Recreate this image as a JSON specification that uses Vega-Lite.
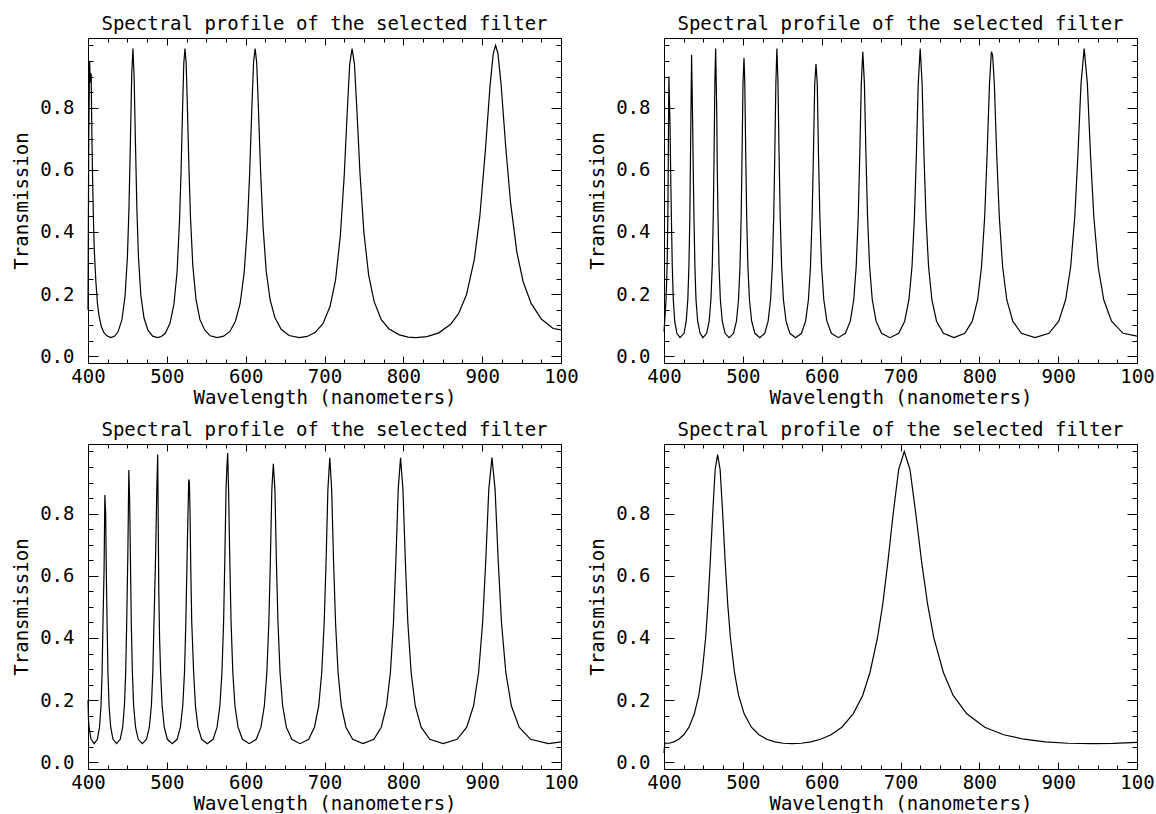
{
"$schema": "https://vega.github.io/schema/vega-lite/v6.json",
"background": "white",
"padding": {"left": 12, "top": 14, "right": 0, "bottom": 0},
"config": {
  "view": {"stroke": null},
  "axis": {"domainColor": "black", "tickColor": "black", "labelColor": "black", "titleColor": "black", "labelFont": "DejaVu Sans Mono", "titleFont": "DejaVu Sans Mono", "labelFontSize": 19, "titleFontSize": 19, "titleFontWeight": "normal", "grid": false, "labelFlush": false, "labelOverlap": false, "domainWidth": 1, "tickWidth": 1},
  "title": {"font": "DejaVu Sans Mono", "fontSize": 19, "fontWeight": "normal", "color": "black", "offset": 4, "frame": "group", "anchor": "middle"}
},
"datasets": {
"p1": [{"x":400,"y":0.15},{"x":401,"y":0.72},{"x":402,"y":0.95},{"x":403,"y":0.88},{"x":404,"y":0.91},{"x":405,"y":0.70},{"x":406,"y":0.55},{"x":407,"y":0.43},{"x":408,"y":0.34},{"x":410,"y":0.24},{"x":412,"y":0.17},{"x":414,"y":0.13},{"x":417,"y":0.095},{"x":420,"y":0.077},{"x":424,"y":0.066},{"x":429,"y":0.06},{"x":434,"y":0.065},{"x":438,"y":0.078},{"x":443,"y":0.117},{"x":447,"y":0.193},{"x":450,"y":0.32},{"x":452,"y":0.48},{"x":454,"y":0.716},{"x":455.5,"y":0.91},{"x":457,"y":0.99},{"x":458.5,"y":0.90},{"x":460,"y":0.71},{"x":462,"y":0.475},{"x":464,"y":0.32},{"x":467,"y":0.197},{"x":471,"y":0.124},{"x":476,"y":0.084},{"x":482,"y":0.065},{"x":488,"y":0.06},{"x":493,"y":0.0635},{"x":498,"y":0.074},{"x":504,"y":0.106},{"x":509,"y":0.167},{"x":513,"y":0.272},{"x":516,"y":0.43},{"x":518,"y":0.59},{"x":520,"y":0.80},{"x":521.5,"y":0.942},{"x":523,"y":0.99},{"x":524.5,"y":0.945},{"x":526,"y":0.81},{"x":528,"y":0.61},{"x":530,"y":0.447},{"x":533,"y":0.29},{"x":537,"y":0.183},{"x":542,"y":0.118},{"x":548,"y":0.085},{"x":555,"y":0.066},{"x":564,"y":0.06},{"x":572,"y":0.065},{"x":580,"y":0.08},{"x":587,"y":0.113},{"x":593,"y":0.17},{"x":598,"y":0.267},{"x":602,"y":0.41},{"x":605,"y":0.585},{"x":608,"y":0.81},{"x":610,"y":0.946},{"x":612,"y":0.99},{"x":614,"y":0.945},{"x":616,"y":0.81},{"x":619,"y":0.59},{"x":622,"y":0.42},{"x":626,"y":0.275},{"x":631,"y":0.182},{"x":637,"y":0.125},{"x":645,"y":0.087},{"x":655,"y":0.067},{"x":668,"y":0.06},{"x":678,"y":0.064},{"x":688,"y":0.0765},{"x":698,"y":0.105},{"x":707,"y":0.16},{"x":714,"y":0.245},{"x":720,"y":0.385},{"x":725,"y":0.58},{"x":729,"y":0.795},{"x":732,"y":0.94},{"x":735,"y":0.99},{"x":738,"y":0.94},{"x":741,"y":0.797},{"x":745,"y":0.59},{"x":750,"y":0.398},{"x":756,"y":0.261},{"x":763,"y":0.176},{"x":772,"y":0.118},{"x":782,"y":0.088},{"x":795,"y":0.069},{"x":806,"y":0.0617},{"x":816,"y":0.06},{"x":830,"y":0.0635},{"x":845,"y":0.0755},{"x":860,"y":0.103},{"x":870,"y":0.137},{"x":880,"y":0.197},{"x":890,"y":0.311},{"x":897,"y":0.45},{"x":904,"y":0.66},{"x":910,"y":0.87},{"x":914,"y":0.973},{"x":917,"y":1.0},{"x":920,"y":0.975},{"x":924,"y":0.875},{"x":930,"y":0.67},{"x":936,"y":0.495},{"x":944,"y":0.335},{"x":952,"y":0.24},{"x":962,"y":0.171},{"x":975,"y":0.12},{"x":990,"y":0.0895},{"x":1000,"y":0.085}],
"p2": [{"x":400,"y":0.08},{"x":400.9,"y":0.113},{"x":402.6,"y":0.182},{"x":403.9,"y":0.289},{"x":404.9,"y":0.45},{"x":406.2,"y":0.90},{"x":407.6,"y":0.75},{"x":408.7,"y":0.55},{"x":409.5,"y":0.43},{"x":410.5,"y":0.289},{"x":411.8,"y":0.182},{"x":413.6,"y":0.113},{"x":416.3,"y":0.074},{"x":420.3,"y":0.06},{"x":425.4,"y":0.074},{"x":428.2,"y":0.113},{"x":430.2,"y":0.182},{"x":431.6,"y":0.289},{"x":432.8,"y":0.45},{"x":433.6,"y":0.645},{"x":435.0,"y":0.97},{"x":436.4,"y":0.74},{"x":437.1,"y":0.60},{"x":438.0,"y":0.45},{"x":439.2,"y":0.289},{"x":440.6,"y":0.182},{"x":442.7,"y":0.113},{"x":445.8,"y":0.074},{"x":449.4,"y":0.06},{"x":454.1,"y":0.074},{"x":457.3,"y":0.113},{"x":459.5,"y":0.182},{"x":461.2,"y":0.289},{"x":462.5,"y":0.45},{"x":463.5,"y":0.645},{"x":464.5,"y":0.878},{"x":465.5,"y":0.99},{"x":466.9,"y":0.79},{"x":467.6,"y":0.60},{"x":468.5,"y":0.45},{"x":469.8,"y":0.289},{"x":471.5,"y":0.182},{"x":473.9,"y":0.113},{"x":477.4,"y":0.074},{"x":482.7,"y":0.06},{"x":488.2,"y":0.074},{"x":491.9,"y":0.113},{"x":494.5,"y":0.182},{"x":496.4,"y":0.289},{"x":497.9,"y":0.45},{"x":499.0,"y":0.645},{"x":500.2,"y":0.878},{"x":501.5,"y":0.96},{"x":502.5,"y":0.878},{"x":503.7,"y":0.645},{"x":504.9,"y":0.45},{"x":506.4,"y":0.289},{"x":508.4,"y":0.182},{"x":511.2,"y":0.113},{"x":515.3,"y":0.074},{"x":521.5,"y":0.06},{"x":527.8,"y":0.074},{"x":532.1,"y":0.113},{"x":535.2,"y":0.182},{"x":537.4,"y":0.289},{"x":539.2,"y":0.45},{"x":540.5,"y":0.645},{"x":541.9,"y":0.878},{"x":543.2,"y":0.99},{"x":544.6,"y":0.878},{"x":546.0,"y":0.645},{"x":547.4,"y":0.45},{"x":549.2,"y":0.289},{"x":551.5,"y":0.182},{"x":554.8,"y":0.113},{"x":559.6,"y":0.074},{"x":566.9,"y":0.06},{"x":574.4,"y":0.074},{"x":579.6,"y":0.113},{"x":583.2,"y":0.182},{"x":585.8,"y":0.289},{"x":587.9,"y":0.45},{"x":589.5,"y":0.645},{"x":591.2,"y":0.878},{"x":592.8,"y":0.94},{"x":594.4,"y":0.878},{"x":596.0,"y":0.645},{"x":597.7,"y":0.45},{"x":599.9,"y":0.289},{"x":602.7,"y":0.182},{"x":606.6,"y":0.113},{"x":612.3,"y":0.074},{"x":621.1,"y":0.06},{"x":630.1,"y":0.074},{"x":636.3,"y":0.113},{"x":640.7,"y":0.182},{"x":643.8,"y":0.289},{"x":646.4,"y":0.45},{"x":648.3,"y":0.645},{"x":650.3,"y":0.878},{"x":652.2,"y":0.98},{"x":654.2,"y":0.878},{"x":656.2,"y":0.645},{"x":658.2,"y":0.45},{"x":660.8,"y":0.289},{"x":664.2,"y":0.182},{"x":669.0,"y":0.113},{"x":676.0,"y":0.074},{"x":686.7,"y":0.06},{"x":697.7,"y":0.074},{"x":705.3,"y":0.113},{"x":710.7,"y":0.182},{"x":714.6,"y":0.289},{"x":717.7,"y":0.45},{"x":720.1,"y":0.645},{"x":722.5,"y":0.878},{"x":725.0,"y":0.99},{"x":727.4,"y":0.878},{"x":729.8,"y":0.645},{"x":732.3,"y":0.45},{"x":735.6,"y":0.289},{"x":739.8,"y":0.182},{"x":745.7,"y":0.113},{"x":754.4,"y":0.074},{"x":767.8,"y":0.06},{"x":781.6,"y":0.074},{"x":791.1,"y":0.113},{"x":797.9,"y":0.182},{"x":802.8,"y":0.289},{"x":806.8,"y":0.45},{"x":809.8,"y":0.645},{"x":812.9,"y":0.878},{"x":815.3,"y":0.98},{"x":816.8,"y":0.97},{"x":819.0,"y":0.878},{"x":822.1,"y":0.645},{"x":825.3,"y":0.45},{"x":829.5,"y":0.289},{"x":834.8,"y":0.182},{"x":842.4,"y":0.113},{"x":853.4,"y":0.074},{"x":870.6,"y":0.06},{"x":888.4,"y":0.074},{"x":900.7,"y":0.113},{"x":909.5,"y":0.182},{"x":915.9,"y":0.289},{"x":921.1,"y":0.45},{"x":925.0,"y":0.645},{"x":929.0,"y":0.878},{"x":933.0,"y":0.99},{"x":937.0,"y":0.878},{"x":941.1,"y":0.645},{"x":945.2,"y":0.45},{"x":950.7,"y":0.289},{"x":957.8,"y":0.182},{"x":967.7,"y":0.113},{"x":982.3,"y":0.074},{"x":1000,"y":0.065}],
"p3": [{"x":400,"y":0.20},{"x":400.6,"y":0.14},{"x":401.3,"y":0.113},{"x":403.9,"y":0.074},{"x":407.9,"y":0.06},{"x":411.9,"y":0.074},{"x":414.6,"y":0.113},{"x":416.5,"y":0.182},{"x":417.9,"y":0.289},{"x":419.0,"y":0.45},{"x":420.4,"y":0.62},{"x":421.4,"y":0.86},{"x":422.4,"y":0.80},{"x":423.3,"y":0.60},{"x":424.2,"y":0.45},{"x":425.3,"y":0.289},{"x":426.7,"y":0.182},{"x":428.8,"y":0.113},{"x":431.7,"y":0.074},{"x":436.3,"y":0.06},{"x":440.9,"y":0.074},{"x":444.0,"y":0.113},{"x":446.2,"y":0.182},{"x":447.8,"y":0.289},{"x":449.1,"y":0.45},{"x":450.6,"y":0.68},{"x":451.8,"y":0.94},{"x":452.9,"y":0.83},{"x":454.0,"y":0.62},{"x":454.9,"y":0.45},{"x":456.3,"y":0.289},{"x":457.9,"y":0.182},{"x":460.3,"y":0.113},{"x":463.7,"y":0.074},{"x":468.9,"y":0.06},{"x":474.2,"y":0.074},{"x":477.8,"y":0.113},{"x":480.4,"y":0.182},{"x":482.2,"y":0.289},{"x":483.7,"y":0.45},{"x":485.8,"y":0.67},{"x":487.3,"y":0.88},{"x":488.4,"y":0.99},{"x":489.8,"y":0.55},{"x":490.8,"y":0.40},{"x":492.1,"y":0.289},{"x":494.0,"y":0.182},{"x":496.7,"y":0.113},{"x":500.7,"y":0.074},{"x":506.8,"y":0.06},{"x":513.0,"y":0.074},{"x":517.2,"y":0.113},{"x":520.2,"y":0.182},{"x":522.4,"y":0.289},{"x":524.1,"y":0.45},{"x":526.0,"y":0.70},{"x":527.8,"y":0.91},{"x":528.6,"y":0.90},{"x":529.4,"y":0.81},{"x":530.4,"y":0.62},{"x":531.6,"y":0.45},{"x":534.0,"y":0.289},{"x":536.3,"y":0.182},{"x":539.5,"y":0.113},{"x":544.2,"y":0.074},{"x":551.3,"y":0.06},{"x":558.7,"y":0.074},{"x":563.7,"y":0.113},{"x":567.3,"y":0.182},{"x":569.9,"y":0.289},{"x":572.0,"y":0.45},{"x":573.5,"y":0.645},{"x":575.1,"y":0.878},{"x":576.2,"y":0.95},{"x":577.2,"y":0.995},{"x":578.3,"y":0.878},{"x":579.9,"y":0.645},{"x":581.5,"y":0.45},{"x":583.7,"y":0.289},{"x":586.4,"y":0.182},{"x":590.3,"y":0.113},{"x":595.9,"y":0.074},{"x":604.5,"y":0.06},{"x":613.4,"y":0.074},{"x":619.4,"y":0.113},{"x":623.7,"y":0.182},{"x":626.9,"y":0.289},{"x":629.4,"y":0.45},{"x":631.3,"y":0.645},{"x":633.2,"y":0.878},{"x":635.1,"y":0.96},{"x":637.1,"y":0.878},{"x":639.0,"y":0.645},{"x":641.0,"y":0.45},{"x":643.6,"y":0.289},{"x":646.9,"y":0.182},{"x":651.6,"y":0.113},{"x":658.5,"y":0.074},{"x":669.0,"y":0.06},{"x":679.9,"y":0.074},{"x":687.3,"y":0.113},{"x":692.7,"y":0.182},{"x":696.5,"y":0.289},{"x":699.6,"y":0.45},{"x":702.0,"y":0.645},{"x":704.3,"y":0.878},{"x":706.7,"y":0.98},{"x":709.1,"y":0.878},{"x":711.5,"y":0.645},{"x":714.0,"y":0.45},{"x":717.2,"y":0.289},{"x":721.3,"y":0.182},{"x":727.2,"y":0.113},{"x":735.7,"y":0.074},{"x":748.9,"y":0.06},{"x":762.6,"y":0.074},{"x":772.0,"y":0.113},{"x":778.7,"y":0.182},{"x":783.6,"y":0.289},{"x":787.5,"y":0.45},{"x":790.5,"y":0.645},{"x":793.5,"y":0.878},{"x":796.5,"y":0.98},{"x":799.5,"y":0.878},{"x":802.6,"y":0.645},{"x":805.7,"y":0.45},{"x":809.9,"y":0.289},{"x":815.1,"y":0.182},{"x":822.6,"y":0.113},{"x":833.6,"y":0.074},{"x":850.5,"y":0.06},{"x":868.2,"y":0.074},{"x":880.4,"y":0.113},{"x":889.1,"y":0.182},{"x":895.5,"y":0.289},{"x":900.6,"y":0.45},{"x":904.5,"y":0.645},{"x":908.4,"y":0.878},{"x":912.4,"y":0.98},{"x":916.4,"y":0.878},{"x":920.4,"y":0.645},{"x":924.5,"y":0.45},{"x":930.0,"y":0.289},{"x":937.0,"y":0.182},{"x":946.9,"y":0.113},{"x":961.4,"y":0.074},{"x":984.0,"y":0.06},{"x":1000,"y":0.066}],
"p4": [{"x":400,"y":0.03},{"x":401,"y":0.062},{"x":406.5,"y":0.0613},{"x":412.5,"y":0.0658},{"x":418.7,"y":0.0743},{"x":425.1,"y":0.0887},{"x":431.7,"y":0.113},{"x":438.5,"y":0.156},{"x":444.1,"y":0.215},{"x":448.4,"y":0.289},{"x":452.8,"y":0.40},{"x":455.7,"y":0.507},{"x":458.7,"y":0.645},{"x":461.8,"y":0.802},{"x":464.9,"y":0.942},{"x":468.0,"y":0.99},{"x":471.2,"y":0.942},{"x":474.4,"y":0.802},{"x":477.6,"y":0.645},{"x":480.9,"y":0.507},{"x":484.3,"y":0.40},{"x":489.4,"y":0.289},{"x":494.6,"y":0.215},{"x":501.7,"y":0.156},{"x":510.9,"y":0.113},{"x":520.4,"y":0.0887},{"x":530.3,"y":0.0743},{"x":540.6,"y":0.0658},{"x":551.3,"y":0.0613},{"x":562.5,"y":0.0599},{"x":574.1,"y":0.0613},{"x":586.1,"y":0.0658},{"x":598.7,"y":0.0743},{"x":611.9,"y":0.0887},{"x":625.6,"y":0.113},{"x":640.0,"y":0.156},{"x":652.0,"y":0.215},{"x":661.3,"y":0.289},{"x":670.8,"y":0.40},{"x":677.4,"y":0.507},{"x":684.0,"y":0.645},{"x":690.8,"y":0.802},{"x":697.7,"y":0.942},{"x":704.8,"y":1.0},{"x":712.0,"y":0.942},{"x":719.3,"y":0.802},{"x":726.8,"y":0.645},{"x":734.5,"y":0.507},{"x":742.3,"y":0.40},{"x":754.4,"y":0.289},{"x":766.8,"y":0.215},{"x":784.1,"y":0.156},{"x":806.8,"y":0.113},{"x":830.9,"y":0.0887},{"x":856.4,"y":0.0743},{"x":883.6,"y":0.0658},{"x":912.5,"y":0.0613},{"x":943.4,"y":0.0599},{"x":970,"y":0.061},{"x":1000,"y":0.064}]
},
"columns": 2,
"spacing": {"row": 81, "column": 103},
"bounds": "flush",
"concat": [
{"title": "Spectral profile of the selected filter", "width": 473, "height": 325, "data": {"name": "p1"},
 "layer": [
  {"mark": {"type": "line", "color": "black", "strokeWidth": 1.2},
   "encoding": {
    "x": {"field": "x", "type": "quantitative", "scale": {"domain": [400, 1000], "nice": false, "zero": false}, "axis": {"orient": "bottom", "values": [400,500,600,700,800,900,1000], "tickSize": -7, "labelPadding": 11, "format": "d", "labelExpr": "datum.value == 1000 ? '100' : datum.label", "title": "Wavelength (nanometers)", "titlePadding": 2}},
    "y": {"field": "y", "type": "quantitative", "scale": {"domain": [-0.0215, 1.024], "nice": false, "zero": false}, "axis": {"orient": "left", "values": [0,0.2,0.4,0.6,0.8], "tickSize": -10, "labelPadding": 24, "format": ".1f", "title": "Transmission", "titlePadding": 8}}}},
  {"mark": {"type": "line", "opacity": 0},
   "encoding": {
    "x": {"field": "x", "type": "quantitative", "scale": {"domain": [400, 1000], "nice": false, "zero": false}, "axis": {"orient": "bottom", "values": [425,450,475,525,550,575,625,650,675,725,750,775,825,850,875,925,950,975], "tickSize": -4, "labels": false, "domain": false, "title": null}},
    "y": {"field": "y", "type": "quantitative", "scale": {"domain": [-0.0215, 1.024], "nice": false, "zero": false}, "axis": {"orient": "left", "values": [0.05,0.1,0.15,0.25,0.3,0.35,0.45,0.5,0.55,0.65,0.7,0.75,0.85,0.9,0.95,1.0], "tickSize": -5, "labels": false, "domain": false, "title": null}}}},
  {"mark": {"type": "line", "opacity": 0},
   "encoding": {
    "x": {"field": "x", "type": "quantitative", "scale": {"domain": [400, 1000], "nice": false, "zero": false}, "axis": {"orient": "top", "values": [400,500,600,700,800,900,1000], "tickSize": -7, "labels": false, "title": null}},
    "y": {"field": "y", "type": "quantitative", "scale": {"domain": [-0.0215, 1.024], "nice": false, "zero": false}, "axis": {"orient": "right", "values": [0,0.2,0.4,0.6,0.8], "tickSize": -10, "labels": false, "title": null}}}},
  {"mark": {"type": "line", "opacity": 0},
   "encoding": {
    "x": {"field": "x", "type": "quantitative", "scale": {"domain": [400, 1000], "nice": false, "zero": false}, "axis": {"orient": "top", "values": [425,450,475,525,550,575,625,650,675,725,750,775,825,850,875,925,950,975], "tickSize": -4, "labels": false, "domain": false, "title": null}},
    "y": {"field": "y", "type": "quantitative", "scale": {"domain": [-0.0215, 1.024], "nice": false, "zero": false}, "axis": {"orient": "right", "values": [0.05,0.1,0.15,0.25,0.3,0.35,0.45,0.5,0.55,0.65,0.7,0.75,0.85,0.9,0.95,1.0], "tickSize": -5, "labels": false, "domain": false, "title": null}}}}
 ],
 "resolve": {"axis": {"x": "independent", "y": "independent"}}},
{"title": "Spectral profile of the selected filter", "width": 473, "height": 325, "data": {"name": "p2"},
 "layer": [
  {"mark": {"type": "line", "color": "black", "strokeWidth": 1.2},
   "encoding": {
    "x": {"field": "x", "type": "quantitative", "scale": {"domain": [400, 1000], "nice": false, "zero": false}, "axis": {"orient": "bottom", "values": [400,500,600,700,800,900,1000], "tickSize": -7, "labelPadding": 11, "format": "d", "labelExpr": "datum.value == 1000 ? '100' : datum.label", "title": "Wavelength (nanometers)", "titlePadding": 2}},
    "y": {"field": "y", "type": "quantitative", "scale": {"domain": [-0.0215, 1.024], "nice": false, "zero": false}, "axis": {"orient": "left", "values": [0,0.2,0.4,0.6,0.8], "tickSize": -10, "labelPadding": 24, "format": ".1f", "title": "Transmission", "titlePadding": 8}}}},
  {"mark": {"type": "line", "opacity": 0},
   "encoding": {
    "x": {"field": "x", "type": "quantitative", "scale": {"domain": [400, 1000], "nice": false, "zero": false}, "axis": {"orient": "bottom", "values": [425,450,475,525,550,575,625,650,675,725,750,775,825,850,875,925,950,975], "tickSize": -4, "labels": false, "domain": false, "title": null}},
    "y": {"field": "y", "type": "quantitative", "scale": {"domain": [-0.0215, 1.024], "nice": false, "zero": false}, "axis": {"orient": "left", "values": [0.05,0.1,0.15,0.25,0.3,0.35,0.45,0.5,0.55,0.65,0.7,0.75,0.85,0.9,0.95,1.0], "tickSize": -5, "labels": false, "domain": false, "title": null}}}},
  {"mark": {"type": "line", "opacity": 0},
   "encoding": {
    "x": {"field": "x", "type": "quantitative", "scale": {"domain": [400, 1000], "nice": false, "zero": false}, "axis": {"orient": "top", "values": [400,500,600,700,800,900,1000], "tickSize": -7, "labels": false, "title": null}},
    "y": {"field": "y", "type": "quantitative", "scale": {"domain": [-0.0215, 1.024], "nice": false, "zero": false}, "axis": {"orient": "right", "values": [0,0.2,0.4,0.6,0.8], "tickSize": -10, "labels": false, "title": null}}}},
  {"mark": {"type": "line", "opacity": 0},
   "encoding": {
    "x": {"field": "x", "type": "quantitative", "scale": {"domain": [400, 1000], "nice": false, "zero": false}, "axis": {"orient": "top", "values": [425,450,475,525,550,575,625,650,675,725,750,775,825,850,875,925,950,975], "tickSize": -4, "labels": false, "domain": false, "title": null}},
    "y": {"field": "y", "type": "quantitative", "scale": {"domain": [-0.0215, 1.024], "nice": false, "zero": false}, "axis": {"orient": "right", "values": [0.05,0.1,0.15,0.25,0.3,0.35,0.45,0.5,0.55,0.65,0.7,0.75,0.85,0.9,0.95,1.0], "tickSize": -5, "labels": false, "domain": false, "title": null}}}}
 ],
 "resolve": {"axis": {"x": "independent", "y": "independent"}}},
{"title": "Spectral profile of the selected filter", "width": 473, "height": 325, "data": {"name": "p3"},
 "layer": [
  {"mark": {"type": "line", "color": "black", "strokeWidth": 1.2},
   "encoding": {
    "x": {"field": "x", "type": "quantitative", "scale": {"domain": [400, 1000], "nice": false, "zero": false}, "axis": {"orient": "bottom", "values": [400,500,600,700,800,900,1000], "tickSize": -7, "labelPadding": 11, "format": "d", "labelExpr": "datum.value == 1000 ? '100' : datum.label", "title": "Wavelength (nanometers)", "titlePadding": 2}},
    "y": {"field": "y", "type": "quantitative", "scale": {"domain": [-0.0215, 1.024], "nice": false, "zero": false}, "axis": {"orient": "left", "values": [0,0.2,0.4,0.6,0.8], "tickSize": -10, "labelPadding": 24, "format": ".1f", "title": "Transmission", "titlePadding": 8}}}},
  {"mark": {"type": "line", "opacity": 0},
   "encoding": {
    "x": {"field": "x", "type": "quantitative", "scale": {"domain": [400, 1000], "nice": false, "zero": false}, "axis": {"orient": "bottom", "values": [425,450,475,525,550,575,625,650,675,725,750,775,825,850,875,925,950,975], "tickSize": -4, "labels": false, "domain": false, "title": null}},
    "y": {"field": "y", "type": "quantitative", "scale": {"domain": [-0.0215, 1.024], "nice": false, "zero": false}, "axis": {"orient": "left", "values": [0.05,0.1,0.15,0.25,0.3,0.35,0.45,0.5,0.55,0.65,0.7,0.75,0.85,0.9,0.95,1.0], "tickSize": -5, "labels": false, "domain": false, "title": null}}}},
  {"mark": {"type": "line", "opacity": 0},
   "encoding": {
    "x": {"field": "x", "type": "quantitative", "scale": {"domain": [400, 1000], "nice": false, "zero": false}, "axis": {"orient": "top", "values": [400,500,600,700,800,900,1000], "tickSize": -7, "labels": false, "title": null}},
    "y": {"field": "y", "type": "quantitative", "scale": {"domain": [-0.0215, 1.024], "nice": false, "zero": false}, "axis": {"orient": "right", "values": [0,0.2,0.4,0.6,0.8], "tickSize": -10, "labels": false, "title": null}}}},
  {"mark": {"type": "line", "opacity": 0},
   "encoding": {
    "x": {"field": "x", "type": "quantitative", "scale": {"domain": [400, 1000], "nice": false, "zero": false}, "axis": {"orient": "top", "values": [425,450,475,525,550,575,625,650,675,725,750,775,825,850,875,925,950,975], "tickSize": -4, "labels": false, "domain": false, "title": null}},
    "y": {"field": "y", "type": "quantitative", "scale": {"domain": [-0.0215, 1.024], "nice": false, "zero": false}, "axis": {"orient": "right", "values": [0.05,0.1,0.15,0.25,0.3,0.35,0.45,0.5,0.55,0.65,0.7,0.75,0.85,0.9,0.95,1.0], "tickSize": -5, "labels": false, "domain": false, "title": null}}}}
 ],
 "resolve": {"axis": {"x": "independent", "y": "independent"}}},
{"title": "Spectral profile of the selected filter", "width": 473, "height": 325, "data": {"name": "p4"},
 "layer": [
  {"mark": {"type": "line", "color": "black", "strokeWidth": 1.2},
   "encoding": {
    "x": {"field": "x", "type": "quantitative", "scale": {"domain": [400, 1000], "nice": false, "zero": false}, "axis": {"orient": "bottom", "values": [400,500,600,700,800,900,1000], "tickSize": -7, "labelPadding": 11, "format": "d", "labelExpr": "datum.value == 1000 ? '100' : datum.label", "title": "Wavelength (nanometers)", "titlePadding": 2}},
    "y": {"field": "y", "type": "quantitative", "scale": {"domain": [-0.0215, 1.024], "nice": false, "zero": false}, "axis": {"orient": "left", "values": [0,0.2,0.4,0.6,0.8], "tickSize": -10, "labelPadding": 24, "format": ".1f", "title": "Transmission", "titlePadding": 8}}}},
  {"mark": {"type": "line", "opacity": 0},
   "encoding": {
    "x": {"field": "x", "type": "quantitative", "scale": {"domain": [400, 1000], "nice": false, "zero": false}, "axis": {"orient": "bottom", "values": [425,450,475,525,550,575,625,650,675,725,750,775,825,850,875,925,950,975], "tickSize": -4, "labels": false, "domain": false, "title": null}},
    "y": {"field": "y", "type": "quantitative", "scale": {"domain": [-0.0215, 1.024], "nice": false, "zero": false}, "axis": {"orient": "left", "values": [0.05,0.1,0.15,0.25,0.3,0.35,0.45,0.5,0.55,0.65,0.7,0.75,0.85,0.9,0.95,1.0], "tickSize": -5, "labels": false, "domain": false, "title": null}}}},
  {"mark": {"type": "line", "opacity": 0},
   "encoding": {
    "x": {"field": "x", "type": "quantitative", "scale": {"domain": [400, 1000], "nice": false, "zero": false}, "axis": {"orient": "top", "values": [400,500,600,700,800,900,1000], "tickSize": -7, "labels": false, "title": null}},
    "y": {"field": "y", "type": "quantitative", "scale": {"domain": [-0.0215, 1.024], "nice": false, "zero": false}, "axis": {"orient": "right", "values": [0,0.2,0.4,0.6,0.8], "tickSize": -10, "labels": false, "title": null}}}},
  {"mark": {"type": "line", "opacity": 0},
   "encoding": {
    "x": {"field": "x", "type": "quantitative", "scale": {"domain": [400, 1000], "nice": false, "zero": false}, "axis": {"orient": "top", "values": [425,450,475,525,550,575,625,650,675,725,750,775,825,850,875,925,950,975], "tickSize": -4, "labels": false, "domain": false, "title": null}},
    "y": {"field": "y", "type": "quantitative", "scale": {"domain": [-0.0215, 1.024], "nice": false, "zero": false}, "axis": {"orient": "right", "values": [0.05,0.1,0.15,0.25,0.3,0.35,0.45,0.5,0.55,0.65,0.7,0.75,0.85,0.9,0.95,1.0], "tickSize": -5, "labels": false, "domain": false, "title": null}}}}
 ],
 "resolve": {"axis": {"x": "independent", "y": "independent"}}}
]
}
